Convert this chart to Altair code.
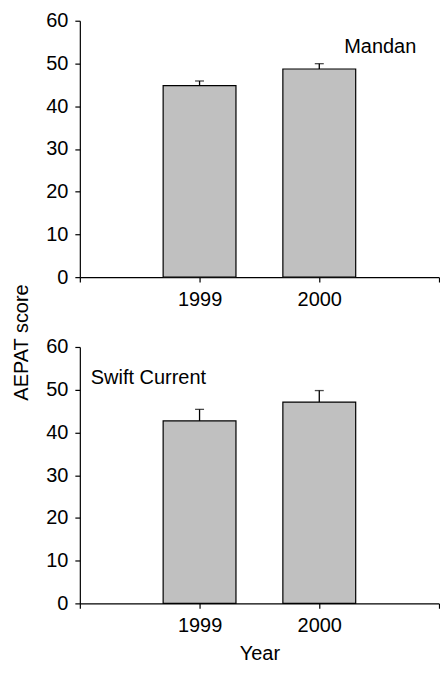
import altair as alt
import pandas as pd

# ---- data ----
years = ["1999", "2000"]
mandan_mean = [44.8, 48.7]
mandan_se = [1.1, 1.25]
swift_mean = [42.7, 47.1]
swift_se = [2.7, 2.7]
panel_names = ["Mandan", "Swift Current"]
panel_label_y = [52.4, 51.3]
y_ticks = [0, 10, 20, 30, 40, 50, 60]

FONT = "Liberation Sans"
x_domain = ["start"] + years + ["end"]
x_scale = alt.Scale(type="point", domain=x_domain, padding=0)
y_scale = alt.Scale(domain=[0, 60], nice=False)
label_expr = "indexof(" + str(years).replace('"', "'") + ", datum.label) >= 0 ? datum.label : ''"


def panel(means, ses, name, label_y, label_x, label_dx, y_title):
    df = pd.DataFrame({"year": years, "mean": means, "se": ses})
    df["top"] = df["mean"] + df["se"]
    x_axis = alt.Axis(
        title=None if y_title else "Year",
        labelAngle=0,
        labelAlign="center",
        labelBaseline="top",
        labelExpr=label_expr,
        labelFontSize=20,
        labelPadding=7,
        tickSize=5,
        titleFontSize=20,
        titleFontWeight="normal",
        titlePadding=8,
    )
    y_axis_kwargs = dict(
        values=y_ticks,
        labelFontSize=20,
        labelPadding=7,
        tickSize=5,
        grid=False,
    )
    if y_title:
        y_axis_kwargs.update(
            title="AEPAT score",
            titleFontSize=20,
            titleFontWeight="normal",
            titleX=-52,
            titleY=322,
            titleAngle=270,
            titleAlign="center",
            titleBaseline="alphabetic",
        )
    else:
        y_axis_kwargs.update(title=None)
    y_axis = alt.Axis(**y_axis_kwargs)
    base = alt.Chart(df)
    bars = base.mark_bar(
        size=73, color="#c0c0c0", stroke="black", strokeWidth=1.2
    ).encode(
        x=alt.X("year:N", scale=x_scale, axis=x_axis),
        y=alt.Y("mean:Q", scale=y_scale, axis=y_axis),
    )
    err = base.mark_rule(color="black", strokeWidth=1.3).encode(
        x=alt.X("year:N", scale=x_scale, axis=x_axis),
        y=alt.Y("mean:Q", scale=y_scale, axis=y_axis),
        y2="top:Q",
    )
    cap = base.mark_tick(color="black", size=9, thickness=1.3).encode(
        x=alt.X("year:N", scale=x_scale, axis=x_axis),
        y=alt.Y("top:Q", scale=y_scale, axis=y_axis),
    )
    lab = (
        alt.Chart(pd.DataFrame({"name": [name]}))
        .mark_text(
            align="left",
            baseline="alphabetic",
            fontSize=20,
            font=FONT,
            color="black",
            dx=label_dx,
        )
        .encode(
            x=alt.datum(label_x, scale=x_scale, axis=x_axis),
            y=alt.datum(label_y, scale=y_scale, axis=y_axis),
            text="name:N",
        )
    )
    return alt.layer(bars, err, cap, lab).properties(width=360, height=257)


top = panel(mandan_mean, mandan_se, panel_names[0], panel_label_y[0], "2000", 25, True)
bottom = panel(swift_mean, swift_se, panel_names[1], panel_label_y[1], "1999", -109, False)

chart = (
    alt.vconcat(top, bottom, spacing=70, bounds="flush")
    .properties(padding={"left": 4, "top": 2, "right": 0, "bottom": 0})
    .configure_view(stroke=None)
    .configure_axis(
        labelFont=FONT,
        titleFont=FONT,
        labelColor="black",
        titleColor="black",
        domainColor="black",
        tickColor="black",
        domainWidth=1.2,
        tickWidth=1.2,
    )
)

chart.save("out.html", embed_options={"renderer": "svg", "actions": False})
